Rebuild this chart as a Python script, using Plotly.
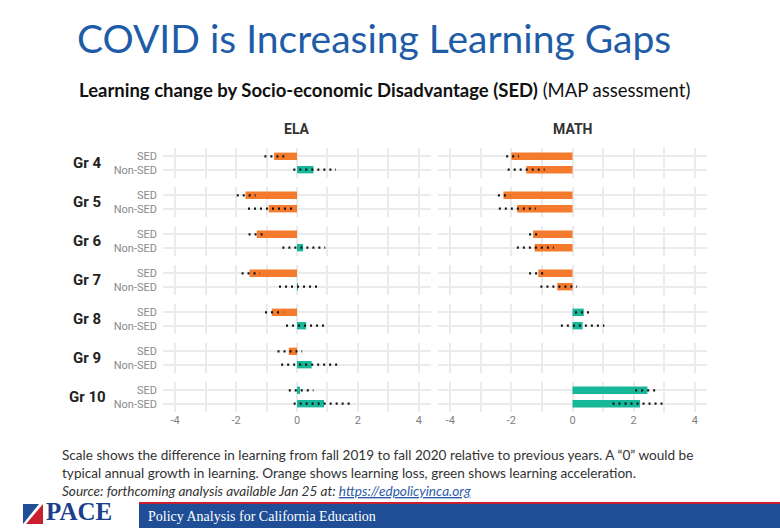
import plotly.graph_objects as go

# ---------------- data ----------------
grades = ["Gr 4", "Gr 5", "Gr 6", "Gr 7", "Gr 8", "Gr 9", "Gr 10"]
groups = ["SED", "Non-SED"]
subjects = ["ELA", "MATH"]
x_ticks = [-4, -3, -2, -1, 0, 1, 2, 3, 4]
x_tick_text = ["-4", "", "-2", "", "0", "", "2", "", "4"]

ela_sed = [-0.75, -1.69, -1.32, -1.56, -0.83, -0.27, 0.10]
ela_sed_lo = [-1.07, -1.98, -1.59, -1.82, -1.05, -0.64, -0.27]
ela_sed_hi = [-0.42, -1.36, -1.00, -1.22, -0.45, 0.17, 0.54]
ela_non = [0.54, -0.93, 0.20, 0.03, 0.30, 0.48, 0.89]
ela_non_lo = [-0.12, -1.61, -0.48, -0.59, -0.36, -0.52, -0.11]
ela_non_hi = [1.28, -0.10, 0.93, 0.78, 1.02, 1.44, 1.83]

math_sed = [-2.00, -2.26, -1.29, -1.12, 0.37, None, 2.45]
math_sed_lo = [-2.17, -2.44, -1.42, -1.42, 0.08, None, 2.05]
math_sed_hi = [-1.75, -2.04, -1.05, -0.83, 0.66, None, 2.83]
math_non = [-1.51, -1.81, -1.24, -0.50, 0.33, None, 2.21]
math_non_lo = [-2.12, -2.41, -1.82, -1.05, -0.38, None, 1.31]
math_non_hi = [-0.91, -1.20, -0.61, 0.15, 1.04, None, 3.07]

data = {
    "ELA": (ela_sed, ela_sed_lo, ela_sed_hi, ela_non, ela_non_lo, ela_non_hi),
    "MATH": (math_sed, math_sed_lo, math_sed_hi, math_non, math_non_lo, math_non_hi),
}

# ---------------- style ----------------
W, H = 780, 528
ORANGE = "#F47A2D"
TEAL = "#17B79A"
GRID = "#EBEBEB"
BLUE_TITLE = "#1F5CA8"

def px_x(p):
    return p / W

def px_y(p):
    return 1 - p / H

col_dom = {"ELA": (163, 431), "MATH": (438, 707)}
panel_top0, panel_h, panel_step = 148, 30, 39

fig = go.Figure()
layout = {}
annotations = []

for i, g in enumerate(grades):
    top = panel_top0 + panel_step * i
    bot = top + panel_h
    for j, subj in enumerate(subjects):
        n = i * 2 + j + 1
        xa = "x" if n == 1 else f"x{n}"
        ya = "y" if n == 1 else f"y{n}"
        sed, sed_lo, sed_hi, non, non_lo, non_hi = data[subj]
        vals = [sed[i], non[i]]
        ypos = [groups.index(gr) for gr in groups]
        colors = [ORANGE if (v is not None and v < 0) else TEAL for v in vals]
        fig.add_trace(go.Bar(
            x=vals, y=ypos, orientation="h", width=0.55,
            marker=dict(color=colors, line=dict(width=0)),
            xaxis=xa, yaxis=ya, showlegend=False, hoverinfo="skip",
        ))
        fig.add_trace(go.Scatter(
            x=[sed_lo[i], sed_hi[i], None, non_lo[i], non_hi[i]],
            y=[0, 0, None, 1, 1],
            mode="lines",
            line=dict(color="#111111", width=2.2, dash="2px,4px"),
            xaxis=xa, yaxis=ya, showlegend=False, hoverinfo="skip",
        ))
        d0, d1 = col_dom[subj]
        layout["xaxis" if n == 1 else f"xaxis{n}"] = dict(
            domain=[px_x(d0), px_x(d1)], anchor=ya, range=[-4.4, 4.4],
            tickvals=x_ticks, ticktext=x_tick_text,
            showticklabels=(i == len(grades) - 1),
            tickfont=dict(family="Roboto", size=11, color="#7F7F7F"),
            showgrid=True, gridcolor=GRID, gridwidth=1.5,
            zeroline=False, showline=False, ticks="",
        )
        layout["yaxis" if n == 1 else f"yaxis{n}"] = dict(
            domain=[px_y(bot), px_y(top)], anchor=xa, range=[1.62, -0.62],
            tickvals=[0, 1], ticktext=groups,
            showticklabels=(j == 0),
            tickfont=dict(family="Roboto", size=11, color="#8A8A8A"),
            ticklabelstandoff=5,
            showgrid=True, gridcolor=GRID, gridwidth=1.5,
            zeroline=False, showline=False, ticks="",
        )
    annotations.append(dict(
        text=f"<b>{g}</b>", x=px_x(87), y=px_y((top + bot) / 2),
        xref="paper", yref="paper", xanchor="center", yanchor="middle",
        showarrow=False, font=dict(family="Roboto", size=15, color="#222222"),
    ))

for subj in subjects:
    d0, d1 = col_dom[subj]
    annotations.append(dict(
        text=f"<b>{subj}</b>", x=px_x((d0 + d1) / 2), y=px_y(129),
        xref="paper", yref="paper", xanchor="center", yanchor="middle",
        showarrow=False, font=dict(family="Roboto", size=14, color="#333333"),
    ))

# Title and subtitle
annotations.append(dict(
    text="COVID is Increasing Learning Gaps", x=px_x(75), y=px_y(38),
    xref="paper", yref="paper", xanchor="left", yanchor="middle",
    showarrow=False, font=dict(family="Lato", size=39, color=BLUE_TITLE),
))
annotations.append(dict(
    text="<b>Learning change by Socio-economic Disadvantage (SED)</b> (MAP assessment)",
    x=px_x(77), y=px_y(90), xref="paper", yref="paper", xanchor="left", yanchor="middle",
    showarrow=False, font=dict(family="Lato", size=18.5, color="#111111"),
))

# Footer notes
foot = [
    "Scale shows the difference in learning from fall 2019 to fall 2020 relative to previous years. A \u201c0\u201d would be",
    "typical annual growth in learning. Orange shows learning loss, green shows learning acceleration.",
    "<i>Source: forthcoming analysis available Jan 25 at: </i><span style='color:#2E5BA6'><i><u>https://edpolicyinca.org</u></i></span>",
]
for k, line in enumerate(foot):
    annotations.append(dict(
        text=line, x=px_x(60), y=px_y(455 + 18 * k),
        xref="paper", yref="paper", xanchor="left", yanchor="middle",
        showarrow=False, font=dict(family="Lato", size=13.6, color="#333333"),
    ))

# Banner
annotations.append(dict(
    text="PACE", x=px_x(45), y=px_y(511), xref="paper", yref="paper",
    xanchor="left", yanchor="middle", showarrow=False, borderpad=0,
    font=dict(family="Liberation Serif", size=25, color="#1B3F8B", weight="bold"),
))
annotations.append(dict(
    text="Policy Analysis for California Education", x=px_x(146), y=px_y(516),
    xref="paper", yref="paper", xanchor="left", yanchor="middle", showarrow=False,
    font=dict(family="Liberation Serif", size=14, color="#FFFFFF"),
))

shapes = [
    dict(type="rect", xref="paper", yref="paper", x0=px_x(139), x1=1, y0=0, y1=px_y(502),
         fillcolor="#C8202F", line=dict(width=0), layer="above"),
    dict(type="rect", xref="paper", yref="paper", x0=px_x(139), x1=1, y0=0, y1=px_y(504),
         fillcolor="#1F4E96", line=dict(width=0), layer="above"),
    dict(type="path", xref="paper", yref="paper",
         path=f"M {px_x(23)},{px_y(524)} L {px_x(23)},{px_y(504)} L {px_x(39)},{px_y(504)} Z",
         fillcolor="#1F4E96", line=dict(width=0)),
    dict(type="path", xref="paper", yref="paper",
         path=f"M {px_x(26)},{px_y(524)} L {px_x(43)},{px_y(504)} L {px_x(43)},{px_y(524)} Z",
         fillcolor="#C8202F", line=dict(width=0)),
]

fig.update_layout(
    width=W, height=H, margin=dict(l=0, r=0, t=0, b=0),
    paper_bgcolor="white", plot_bgcolor="white",
    annotations=annotations, shapes=shapes, barmode="overlay",
    **layout,
)

fig.write_html("out.html")
